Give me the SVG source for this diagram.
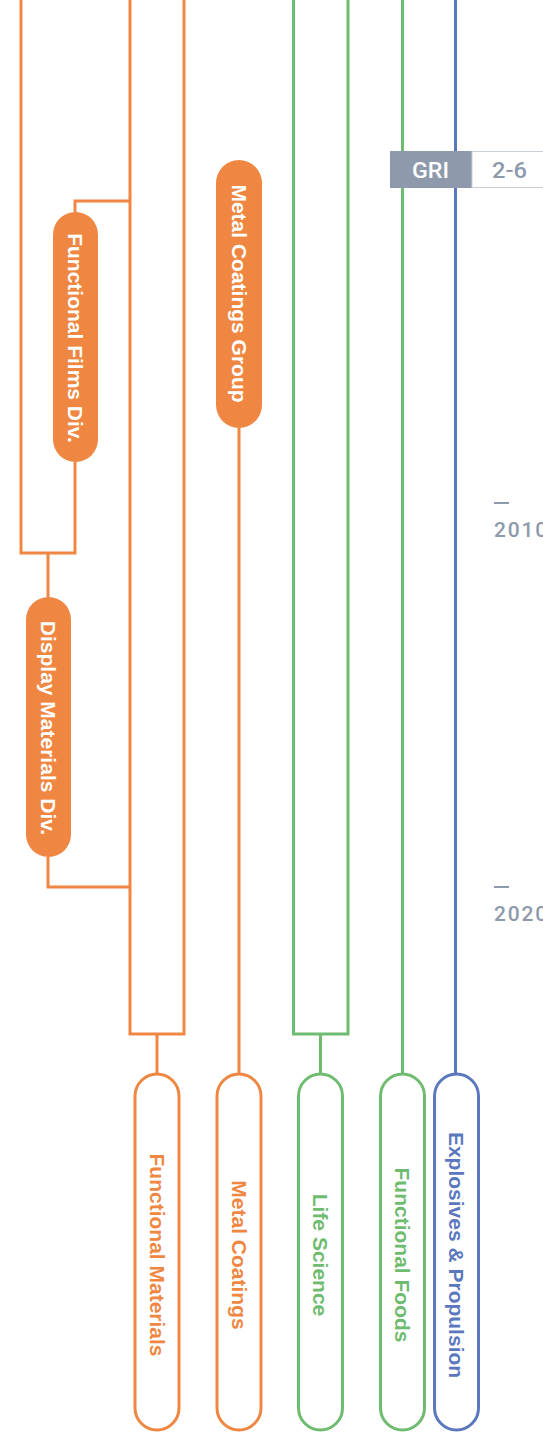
<svg xmlns="http://www.w3.org/2000/svg" width="543" height="1432" viewBox="0 0 543 1432">
<style>
.o{stroke:#ef8742}.g{stroke:#6fbb70}.b{stroke:#5b78be}
.ln{fill:none;stroke-width:3}
.fp{fill:#ef8742}
.op{fill:#fff;stroke-width:3}
.pt{font-family:"Liberation Sans",Arial,sans-serif;font-weight:bold;font-size:21px;text-anchor:middle}
.wt{fill:#fff}
.yr{font-family:Roboto,"DejaVu Sans",sans-serif;font-weight:500;font-size:21px;letter-spacing:1.8px;fill:#8e9aab}
</style>
<rect width="543" height="1432" fill="#fff"/>
<g id="connectors">
<path class="ln o" d="M21,0 V553 H75 V462"/>
<path class="ln o" d="M75,212 V201 H130"/>
<path class="ln o" d="M48,553 V597"/>
<path class="ln o" d="M48,857 V887 H130"/>
<path class="ln o" d="M130,0 V1034 H184 V0"/>
<path class="ln o" d="M157,1034 V1074"/>
<path class="ln o" d="M239,428 V1074"/>
<path class="ln g" d="M293.5,0 V1034 H348 V0"/>
<path class="ln g" d="M320.5,1034 V1074"/>
<path class="ln g" d="M402.5,0 V1074"/>
<path class="ln b" d="M455.5,0 V1074"/>
</g>
<g id="gri">
<rect x="390" y="151" width="82" height="37" fill="#8e9aab"/>
<rect x="472" y="151.5" width="80" height="36" fill="#fff" stroke="#c9cfd7" stroke-width="1"/>
<text x="430.5" y="178" font-family="Roboto,'DejaVu Sans',sans-serif" font-weight="500" font-size="22" fill="#fff" text-anchor="middle" textLength="37" lengthAdjust="spacingAndGlyphs">GRI</text>
<text x="509.5" y="178" font-family="Roboto,'DejaVu Sans',sans-serif" font-weight="500" font-size="22" fill="#8e9aab" text-anchor="middle" textLength="35" lengthAdjust="spacingAndGlyphs">2-6</text>
</g>
<g id="year2010">
<rect x="494" y="502" width="15" height="2" fill="#8e9aab"/>
<text class="yr" x="494" y="536.5">2010</text>
</g>
<g id="year2020">
<rect x="494" y="886" width="15" height="2" fill="#8e9aab"/>
<text class="yr" x="494" y="920.5">2020</text>
</g>
<g id="functional-films">
<rect class="fp" x="53" y="212" width="45" height="250" rx="22.5"/>
<text class="pt wt" transform="translate(75.5,338) rotate(90)" y="7.5">Functional Films Div.</text>
</g>
<g id="display-materials">
<rect class="fp" x="26" y="597" width="45" height="260" rx="22.5"/>
<text class="pt wt" transform="translate(48.5,728) rotate(90)" y="7.5">Display Materials Div.</text>
</g>
<g id="metal-coatings-group">
<rect class="fp" x="216" y="160" width="46" height="268" rx="23"/>
<text class="pt wt" transform="translate(239,293.5) rotate(90)" y="7.5">Metal Coatings Group</text>
</g>
<g id="functional-materials">
<rect class="op o" x="135" y="1074" width="44" height="356" rx="22"/>
<text class="pt" fill="#ef8742" transform="translate(157,1255) rotate(90)" y="7.5">Functional Materials</text>
</g>
<g id="metal-coatings">
<rect class="op o" x="217" y="1074" width="44" height="356" rx="22"/>
<text class="pt" fill="#ef8742" transform="translate(239,1255) rotate(90)" y="7.5">Metal Coatings</text>
</g>
<g id="life-science">
<rect class="op g" x="298.5" y="1074" width="44" height="356" rx="22"/>
<text class="pt" fill="#6fbb70" transform="translate(320.5,1255) rotate(90)" y="7.5">Life Science</text>
</g>
<g id="functional-foods">
<rect class="op g" x="380.5" y="1074" width="44" height="356" rx="22"/>
<text class="pt" fill="#6fbb70" transform="translate(402.5,1255) rotate(90)" y="7.5">Functional Foods</text>
</g>
<g id="explosives-propulsion">
<rect class="op b" x="434.5" y="1074" width="44" height="356" rx="22"/>
<text class="pt" fill="#5b78be" transform="translate(456.5,1255) rotate(90)" y="7.5">Explosives &amp; Propulsion</text>
</g>
</svg>
